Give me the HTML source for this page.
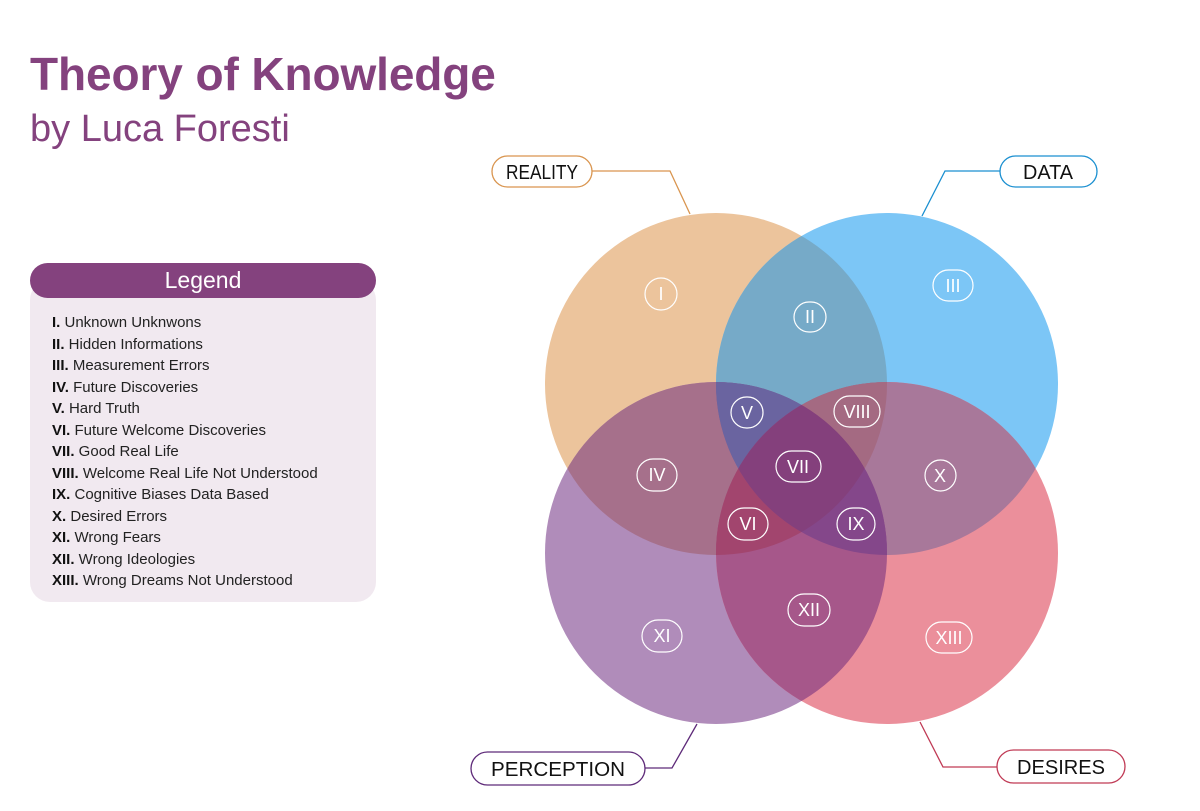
<!DOCTYPE html>
<html><head><meta charset="utf-8"><style>
body{margin:0;width:1200px;height:811px;background:#fff;overflow:hidden;font-family:"Liberation Sans",sans-serif;position:relative}
.t{position:absolute;left:30px;top:47px;font-size:46px;font-weight:bold;color:#84427e;letter-spacing:-0.1px}
.s{position:absolute;left:30px;top:108px;font-size:38px;color:#84427e}
.lh{position:absolute;left:30px;top:263px;width:346px;height:35px;background:#84427e;border-radius:18px;color:#fff;font-size:23px;text-align:center;line-height:35px;z-index:2}
.lb{position:absolute;left:30px;top:280px;width:346px;height:322px;background:#f1e9f0;border-radius:20px}
.li{position:absolute;left:52px;top:312px;font-size:15px;line-height:21.5px;color:#222}
.li b{color:#111}
</style></head><body>
<div class="t">Theory of Knowledge</div>
<div class="s">by Luca Foresti</div>
<div class="lb"></div>
<div class="lh">Legend</div>
<div class="li"><b>I.</b> Unknown Unknwons<br><b>II.</b> Hidden Informations<br><b>III.</b> Measurement Errors<br><b>IV.</b> Future Discoveries<br><b>V.</b> Hard Truth<br><b>VI.</b> Future Welcome Discoveries<br><b>VII.</b> Good Real Life<br><b>VIII.</b> Welcome Real Life Not Understood<br><b>IX.</b> Cognitive Biases Data Based<br><b>X.</b> Desired Errors<br><b>XI.</b> Wrong Fears<br><b>XII.</b> Wrong Ideologies<br><b>XIII.</b> Wrong Dreams Not Understood</div>
<svg width="1200" height="811" style="position:absolute;left:0;top:0">
<defs>
<clipPath id="R"><circle cx="716" cy="384" r="171"/></clipPath>
<clipPath id="D"><circle cx="887" cy="384" r="171"/></clipPath>
<clipPath id="P"><circle cx="716" cy="553" r="171"/></clipPath>
<clipPath id="E"><circle cx="887" cy="553" r="171"/></clipPath>
</defs>
<circle cx="716" cy="384" r="171" fill="#ecc49c"/>
<circle cx="887" cy="384" r="171" fill="#7cc6f6"/>
<circle cx="716" cy="553" r="171" fill="#b08cba"/>
<circle cx="887" cy="553" r="171" fill="#eb8f9b"/>
<g clip-path="url(#R)"><circle cx="887" cy="384" r="171" fill="#76aac8"/><circle cx="716" cy="553" r="171" fill="#a6708b"/><circle cx="887" cy="553" r="171" fill="#a24a70"/></g>
<g clip-path="url(#D)"><circle cx="887" cy="553" r="171" fill="#a8789a"/><circle cx="716" cy="553" r="171" fill="#7a5a98"/></g>
<g clip-path="url(#P)"><circle cx="887" cy="553" r="171" fill="#a6578a"/></g>
<g clip-path="url(#R)"><g clip-path="url(#D)"><circle cx="716" cy="553" r="171" fill="#6a64a0"/><circle cx="887" cy="553" r="171" fill="#a46a82"/></g></g>
<g clip-path="url(#R)"><g clip-path="url(#P)"><circle cx="887" cy="553" r="171" fill="#a2456e"/></g></g>
<g clip-path="url(#D)"><g clip-path="url(#P)"><circle cx="887" cy="553" r="171" fill="#84478a"/></g></g>
<g clip-path="url(#R)"><g clip-path="url(#D)"><g clip-path="url(#P)"><circle cx="887" cy="553" r="171" fill="#84407c"/></g></g></g>
<g fill="none" stroke="#fff" stroke-width="1.2">
<rect x="645" y="278" width="32" height="32" rx="16"/>
<rect x="794" y="302" width="32" height="30" rx="15"/>
<rect x="933" y="270" width="40" height="31" rx="15.5"/>
<rect x="637" y="459" width="40" height="32" rx="16"/>
<rect x="731" y="397" width="32" height="31" rx="15.5"/>
<rect x="728" y="508" width="40" height="32" rx="16"/>
<rect x="776" y="451" width="45" height="31" rx="15.5"/>
<rect x="834" y="396" width="46" height="31" rx="15.5"/>
<rect x="837" y="508" width="38" height="32" rx="16"/>
<rect x="925" y="460" width="31" height="31" rx="15.5"/>
<rect x="642" y="620" width="40" height="32" rx="16"/>
<rect x="788" y="594" width="42" height="32" rx="16"/>
<rect x="926" y="622" width="46" height="31" rx="15.5"/>
</g>
<g fill="#fff" font-size="18" text-anchor="middle" font-family="Liberation Sans,sans-serif">
<text x="661" y="300">I</text><text x="810" y="323">II</text><text x="953" y="292">III</text>
<text x="657" y="481">IV</text><text x="747" y="419">V</text><text x="748" y="530">VI</text>
<text x="798" y="473">VII</text><text x="857" y="418">VIII</text><text x="856" y="530">IX</text>
<text x="940" y="482">X</text><text x="662" y="642">XI</text><text x="809" y="616">XII</text><text x="949" y="644">XIII</text>
</g>
<g fill="#fff" stroke-width="1.3" font-size="20" font-family="Liberation Sans,sans-serif" text-anchor="middle">
<rect x="492" y="156" width="100" height="31" rx="15.5" stroke="#d9954f"/>
<polyline points="592,171 670,171 690,214" fill="none" stroke="#d9954f"/>
<text x="542" y="179" fill="#111" textLength="72" lengthAdjust="spacingAndGlyphs">REALITY</text>
<rect x="1000" y="156" width="97" height="31" rx="15.5" stroke="#1a8fd0"/>
<polyline points="1000,171 945,171 922,216" fill="none" stroke="#1a8fd0"/>
<text x="1048" y="179" fill="#111" textLength="50" lengthAdjust="spacingAndGlyphs">DATA</text>
<rect x="471" y="752" width="174" height="33" rx="16.5" stroke="#5e2a79"/>
<polyline points="645,768 672,768 697,724" fill="none" stroke="#5e2a79"/>
<text x="558" y="776" fill="#111" textLength="134" lengthAdjust="spacingAndGlyphs">PERCEPTION</text>
<rect x="997" y="750" width="128" height="33" rx="16.5" stroke="#c03a55"/>
<polyline points="997,767 943,767 920,722" fill="none" stroke="#c03a55"/>
<text x="1061" y="774" fill="#111" textLength="88" lengthAdjust="spacingAndGlyphs">DESIRES</text>
</g>
</svg>
</body></html>
